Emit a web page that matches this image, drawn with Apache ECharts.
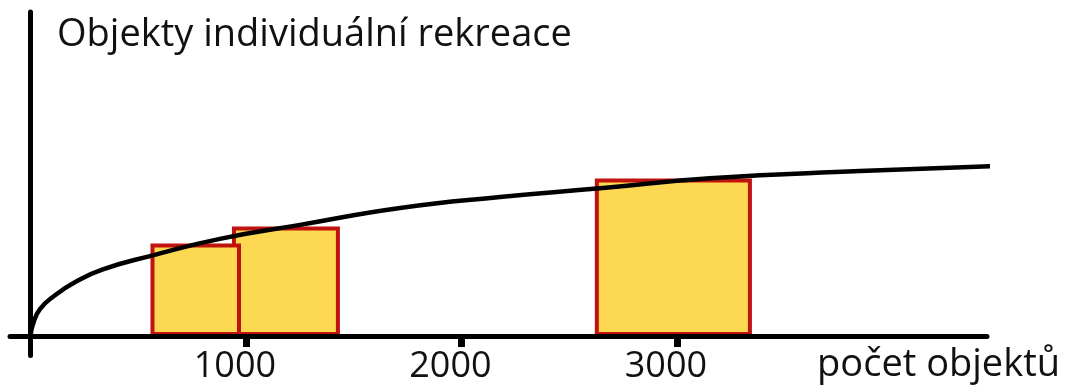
<!DOCTYPE html>
<html>
<head>
<meta charset="utf-8">
<script src="https://cdn.jsdelivr.net/npm/echarts@6/dist/echarts.min.js"></script>
<style>
  html, body { margin: 0; padding: 0; background: #fff; }
  #chart { width: 1065px; height: 389px; }
</style>
</head>
<body>
<div id="chart"></div>
<script>
// Labelled ticks on the horizontal axis (počet objektů)
const xTicks = [1000, 2000, 3000];

// Trend curve: number of objects vs. relative value
const curveX = [0, 12, 44, 114, 206, 336, 568, 879, 1251, 1715, 2179, 2643, 3153, 3849, 4466];
const curveY = [0, 3.7, 8.3, 12.6, 16.6, 20.6, 24.9, 30.0, 34.3, 39.5, 42.9, 45.6, 48.7, 50.9, 52.4];

// Class intervals drawn as boxes: start, end and height
const binStart = [557, 935, 2619];
const binEnd = [977, 1436, 3348];
const binHeight = [28.6, 33.8, 48.6];

const FONT = '"Open Sans", "DejaVu Sans", sans-serif';
const BORDER = 4;

// later bins first so the first box is painted over its neighbour
const binData = binStart.map((s, i) => [s, binEnd[i], binHeight[i]]).reverse();
const curveData = curveX.map((x, i) => [x, curveY[i]]);

const chart = echarts.init(document.getElementById('chart'), null, { renderer: 'canvas' });

chart.setOption({
  animation: false,
  backgroundColor: '#ffffff',
  title: [
    {
      text: 'Objekty individuální rekreace',
      left: 57, top: 16, padding: 0,
      textStyle: { fontFamily: FONT, fontSize: 38, fontWeight: 'normal', color: '#111' }
    },
    {
      text: 'počet objektů',
      right: 5, top: 346, padding: 0,
      textStyle: { fontFamily: FONT, fontSize: 38, fontWeight: 'normal', color: '#111' }
    }
  ],
  grid: {
    left: 10, right: 78, top: 12, bottom: 33.5,
    containLabel: false, outerBoundsMode: 'none'
  },
  xAxis: {
    type: 'value',
    min: -95, max: 4439,
    z: 2,
    axisLine: { onZero: true, lineStyle: { color: '#000', width: 5 } },
    axisTick: { show: true, customValues: xTicks, length: 11, lineStyle: { color: '#000', width: 7 } },
    axisLabel: {
      show: true, customValues: xTicks, margin: -7, padding: [0, 22, 0, 0],
      lineHeight: 36,
      formatter: function (v) { return String(v); },
      fontFamily: FONT, fontSize: 36, color: '#111'
    },
    splitLine: { show: false }
  },
  yAxis: {
    type: 'value',
    min: -6, max: 100,
    z: 2,
    axisLine: { show: true, onZero: true, lineStyle: { color: '#000', width: 5 } },
    axisTick: { show: false },
    axisLabel: { show: false },
    splitLine: { show: false }
  },
  series: [
    {
      type: 'custom',
      z: 1,
      data: binData,
      encode: { x: [0, 1], y: 2 },
      renderItem: function (params, api) {
        const p0 = api.coord([api.value(0), 0]);
        const p1 = api.coord([api.value(1), api.value(2)]);
        const h = BORDER / 2;
        return {
          type: 'rect',
          shape: {
            x: p0[0] + h, y: p1[1] + h,
            width: p1[0] - p0[0] - BORDER, height: p0[1] - p1[1] - BORDER
          },
          style: { fill: '#fdd853', stroke: '#c0120f', lineWidth: BORDER }
        };
      }
    },
    {
      type: 'line',
      z: 3,
      data: curveData,
      clip: false,
      smooth: true,
      showSymbol: false,
      symbol: 'none',
      lineStyle: { color: '#000', width: 4.5 }
    }
  ]
});
</script>
</body>
</html>
